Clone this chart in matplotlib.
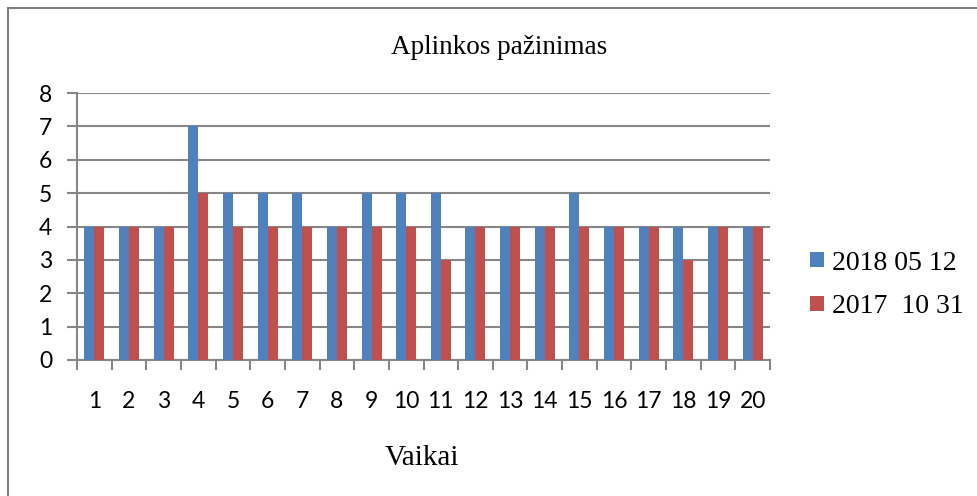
import numpy as np
import matplotlib.pyplot as plt
from matplotlib.lines import Line2D

# data
children = [str(i) for i in range(1, 21)]
scores_2018 = [4, 4, 4, 7, 5, 5, 5, 4, 5, 5, 5, 4, 4, 4, 5, 4, 4, 4, 4, 4]
scores_2017 = [4, 4, 4, 5, 4, 4, 4, 4, 4, 4, 3, 4, 4, 4, 4, 4, 4, 3, 4, 4]
series_labels = ['2018 05 12', '2017  10 31']

blue = '#4F81BD'
red = '#C0504D'
grid_col = '#868686'
serif = 'Liberation Serif'
sans = 'Lato'

fig = plt.figure(figsize=(9.77, 4.96), dpi=100)
ax = fig.add_axes([77 / 977, 1 - 360 / 496, 693 / 977, 267 / 496])

x = np.arange(len(children))
w = 0.289
ax.bar(x - w / 2, scores_2018, width=w, color=blue, label=series_labels[0], zorder=3)
ax.bar(x + w / 2, scores_2017, width=w, color=red, label=series_labels[1], zorder=3)

ax.set_xlim(-0.5, len(children) - 0.5)
ax.set_ylim(0, 8)
ax.set_yticks(range(0, 9))
ax.yaxis.grid(True, color=grid_col, linewidth=1.5, zorder=0)

# category labels at centres, tick marks at the boundaries
ax.set_xticks(x)
ax.set_xticklabels(children, fontfamily=sans, fontsize=16.5)
ax.set_xticks(np.arange(-0.5, len(children), 1), minor=True)
ax.tick_params(axis='x', which='major', length=0, pad=22)
ax.tick_params(axis='x', which='minor', length=7, width=1.5, color=grid_col)
ax.tick_params(axis='y', length=7, width=1.5, color=grid_col, pad=11)
for lab in ax.get_yticklabels():
    lab.set_fontfamily(sans)
    lab.set_fontsize(16.5)

for s in ['top', 'right']:
    ax.spines[s].set_visible(False)
for s in ['left', 'bottom']:
    ax.spines[s].set_color(grid_col)
    ax.spines[s].set_linewidth(1.5)

fig.text(499 / 977, 1 - 54 / 496, 'Aplinkos pažinimas', fontfamily=serif,
         fontsize=19.5, ha='center', va='baseline')
fig.text(422 / 977, 1 - 465 / 496, 'Vaikai', fontfamily=serif,
         fontsize=21, ha='center', va='baseline')

fig.legend(loc='center left', bbox_to_anchor=(810 / 977, 1 - 285 / 496),
           frameon=False, prop={'family': serif, 'size': 20},
           handlelength=0.5, handleheight=0.45, handletextpad=0.3,
           labelspacing=0.68, borderpad=0, borderaxespad=0)

# outer chart border (cropped on right and bottom)
fig.add_artist(Line2D([8 / 977, 8 / 977], [0, 1 - 8 / 496], transform=fig.transFigure,
                      color='#7f7f7f', linewidth=1.5))
fig.add_artist(Line2D([8 / 977, 1], [1 - 8 / 496, 1 - 8 / 496], transform=fig.transFigure,
                      color='#7f7f7f', linewidth=1.5))

fig.savefig('out.png', dpi=100)
